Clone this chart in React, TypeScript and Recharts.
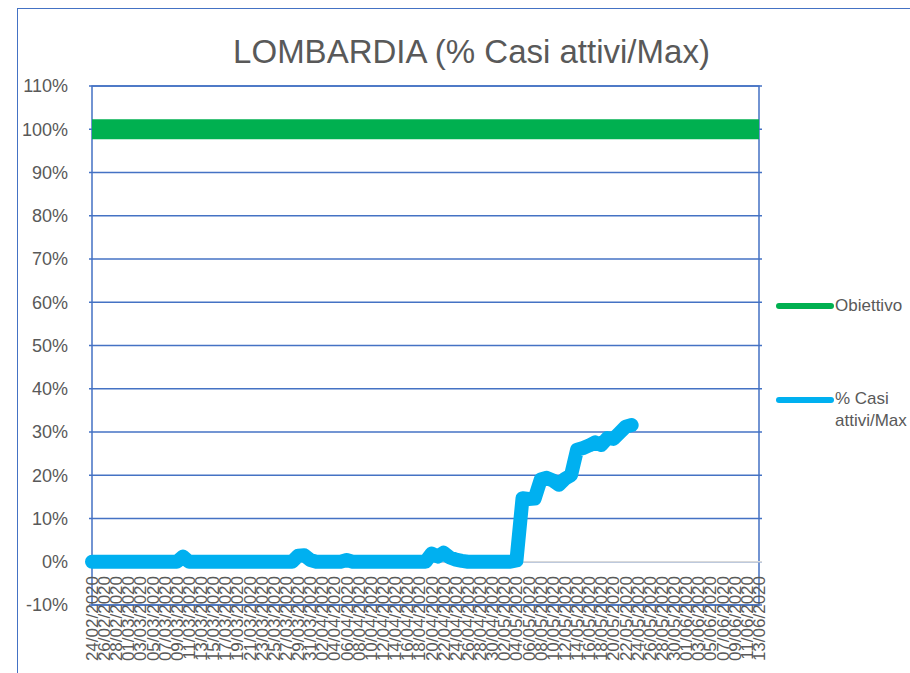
import { CartesianGrid, Legend, Line, LineChart, ReferenceArea, ReferenceLine, XAxis, YAxis } from 'recharts'

const dates = [
  '24/02/2020', '25/02/2020', '26/02/2020', '27/02/2020', '28/02/2020', '29/02/2020',
  '01/03/2020', '02/03/2020', '03/03/2020', '04/03/2020', '05/03/2020', '06/03/2020', '07/03/2020',
  '08/03/2020', '09/03/2020', '10/03/2020', '11/03/2020', '12/03/2020', '13/03/2020', '14/03/2020',
  '15/03/2020', '16/03/2020', '17/03/2020', '18/03/2020', '19/03/2020', '20/03/2020', '21/03/2020',
  '22/03/2020', '23/03/2020', '24/03/2020', '25/03/2020', '26/03/2020', '27/03/2020', '28/03/2020',
  '29/03/2020', '30/03/2020', '31/03/2020',
  '01/04/2020', '02/04/2020', '03/04/2020', '04/04/2020', '05/04/2020', '06/04/2020', '07/04/2020',
  '08/04/2020', '09/04/2020', '10/04/2020', '11/04/2020', '12/04/2020', '13/04/2020', '14/04/2020',
  '15/04/2020', '16/04/2020', '17/04/2020', '18/04/2020', '19/04/2020', '20/04/2020', '21/04/2020',
  '22/04/2020', '23/04/2020', '24/04/2020', '25/04/2020', '26/04/2020', '27/04/2020', '28/04/2020',
  '29/04/2020', '30/04/2020',
  '01/05/2020', '02/05/2020', '03/05/2020', '04/05/2020', '05/05/2020', '06/05/2020', '07/05/2020',
  '08/05/2020', '09/05/2020', '10/05/2020', '11/05/2020', '12/05/2020', '13/05/2020', '14/05/2020',
  '15/05/2020', '16/05/2020', '17/05/2020', '18/05/2020', '19/05/2020', '20/05/2020', '21/05/2020',
  '22/05/2020', '23/05/2020', '24/05/2020', '25/05/2020', '26/05/2020', '27/05/2020', '28/05/2020',
  '29/05/2020', '30/05/2020', '31/05/2020',
  '01/06/2020', '02/06/2020', '03/06/2020', '04/06/2020', '05/06/2020', '06/06/2020', '07/06/2020',
  '08/06/2020', '09/06/2020', '10/06/2020', '11/06/2020', '12/06/2020', '13/06/2020',
]

// % casi attivi / max, one value per day (24/02 .. 23/05), later days empty
const casiAttivi: (number | null)[] = [
  0, 0, 0, 0, 0, 0, 0, 0, 0, 0, 0, 0, 0, 0, 0, 1.2, 0, 0, 0, 0,
  0, 0, 0, 0, 0, 0, 0, 0, 0, 0, 0, 0, 0, 0, 1.4, 1.5, 0.4, 0, 0, 0,
  0, 0, 0.4, 0, 0, 0, 0, 0, 0, 0, 0, 0, 0, 0, 0, 0, 1.9, 1.2, 2.1, 1.0,
  0.5, 0.2, 0, 0, 0, 0, 0, 0, 0, 0, 0.3, 14.7, 14.5, 14.6, 19.0, 19.4, 18.8, 17.8, 19.2, 20.0,
  25.9, 26.3, 26.9, 27.6, 27.0, 28.6, 28.4, 29.8, 31.2, 31.6,
]

const obiettivo = 100

const yTicks = [-10, 0, 10, 20, 30, 40, 50, 60, 70, 80, 90, 100, 110]

const seriesOrder = ['Obiettivo', '% Casi attivi/Max']

const rows = dates.map((date, i) => ({
  date,
  obiettivo,
  casi: i < casiAttivi.length ? casiAttivi[i] : null,
}))

const FONT = '"Liberation Sans", Arial, sans-serif'
const TEXT = '#595959'
const BLUE = '#4472C4'

function DateTick(props: any) {
  const { x, y, payload } = props
  return (
    <text
      x={0}
      y={0}
      transform={`translate(${x},${y - 29}) rotate(-90)`}
      textAnchor="end"
      dy="0.35em"
      fill={TEXT}
      fontSize={17}
      fontFamily={FONT}
    >
      {payload.value}
    </text>
  )
}

function LegendBox(props: any) {
  const items = [...(props.payload || [])].sort(
    (a: any, b: any) => seriesOrder.indexOf(a.value) - seriesOrder.indexOf(b.value),
  )
  const tops = [5, 98]
  return (
    <div style={{ position: 'relative', width: 140, height: 150, fontFamily: FONT }}>
      {items.map((item: any, i: number) => (
        <div key={item.value} style={{ position: 'absolute', left: 0, top: tops[i], display: 'flex' }}>
          <svg width={60} height={22} style={{ flex: 'none' }}>
            <line x1={4} y1={i === 0 ? 11 : 12} x2={56} y2={i === 0 ? 11 : 12} stroke={item.color} strokeWidth={6} strokeLinecap="round" />
          </svg>
          <span style={{ width: 84, fontSize: 17, lineHeight: '22px', color: TEXT }}>{item.value}</span>
        </div>
      ))}
    </div>
  )
}

export default function App() {
  return (
    <div style={{ position: 'relative', width: 910, height: 673, overflow: 'hidden', background: '#fff' }}>
      <style>{'html,body{margin:0;overflow:hidden}'}</style>
      <div
        style={{
          position: 'absolute',
          left: 17,
          top: 8,
          width: 1000,
          height: 800,
          borderLeft: `1.5px solid ${BLUE}`,
          borderTop: `1.5px solid ${BLUE}`,
        }}
      />
      <div
        style={{
          position: 'absolute',
          left: 0,
          top: 33,
          width: 943,
          textAlign: 'center',
          fontFamily: FONT,
          fontSize: 33,
          lineHeight: '38px',
          color: TEXT,
        }}
      >
        LOMBARDIA (% Casi attivi/Max)
      </div>
      <div style={{ position: 'absolute', left: 0, top: 0 }}>
        <LineChart width={910} height={673} data={rows} margin={{ top: 86, right: 148, bottom: 0, left: 17 }}>
          <CartesianGrid vertical={false} stroke={BLUE} strokeWidth={1.3} />
          <XAxis
            dataKey="date"
            interval={1}
            tickLine={false}
            axisLine={false}
            tickSize={0}
            tickMargin={0}
            height={68}
            padding={{ left: 3, right: 3 }}
            tick={<DateTick />}
          />
          <YAxis
            domain={[-10, 110]}
            ticks={yTicks}
            interval={0}
            tickFormatter={(v: number) => `${v}%`}
            tickLine={false}
            tickSize={0}
            tickMargin={21}
            axisLine={false}
            width={72}
            tick={{ fill: TEXT, fontSize: 18, fontFamily: FONT }}
          />
          <ReferenceArea y1={-10} y2={110} fill="none" stroke={BLUE} strokeWidth={1.5} ifOverflow="visible" />
          <ReferenceLine y={0} stroke="#D9D9D9" strokeWidth={1.5} />
          <Legend
            layout="vertical"
            align="center"
            verticalAlign="middle"
            wrapperStyle={{ left: 775, top: 290, width: 140 }}
            content={<LegendBox />}
          />
          <Line
            dataKey="obiettivo"
            name="Obiettivo"
            stroke="#00B050"
            strokeWidth={20}
            strokeLinecap="butt"
            dot={false}
            activeDot={false}
            isAnimationActive={false}
          />
          <Line
            dataKey="casi"
            name="% Casi attivi/Max"
            stroke="#00B0F0"
            strokeWidth={14}
            strokeLinecap="round"
            strokeLinejoin="round"
            dot={false}
            activeDot={false}
            isAnimationActive={false}
          />
        </LineChart>
      </div>
    </div>
  )
}
